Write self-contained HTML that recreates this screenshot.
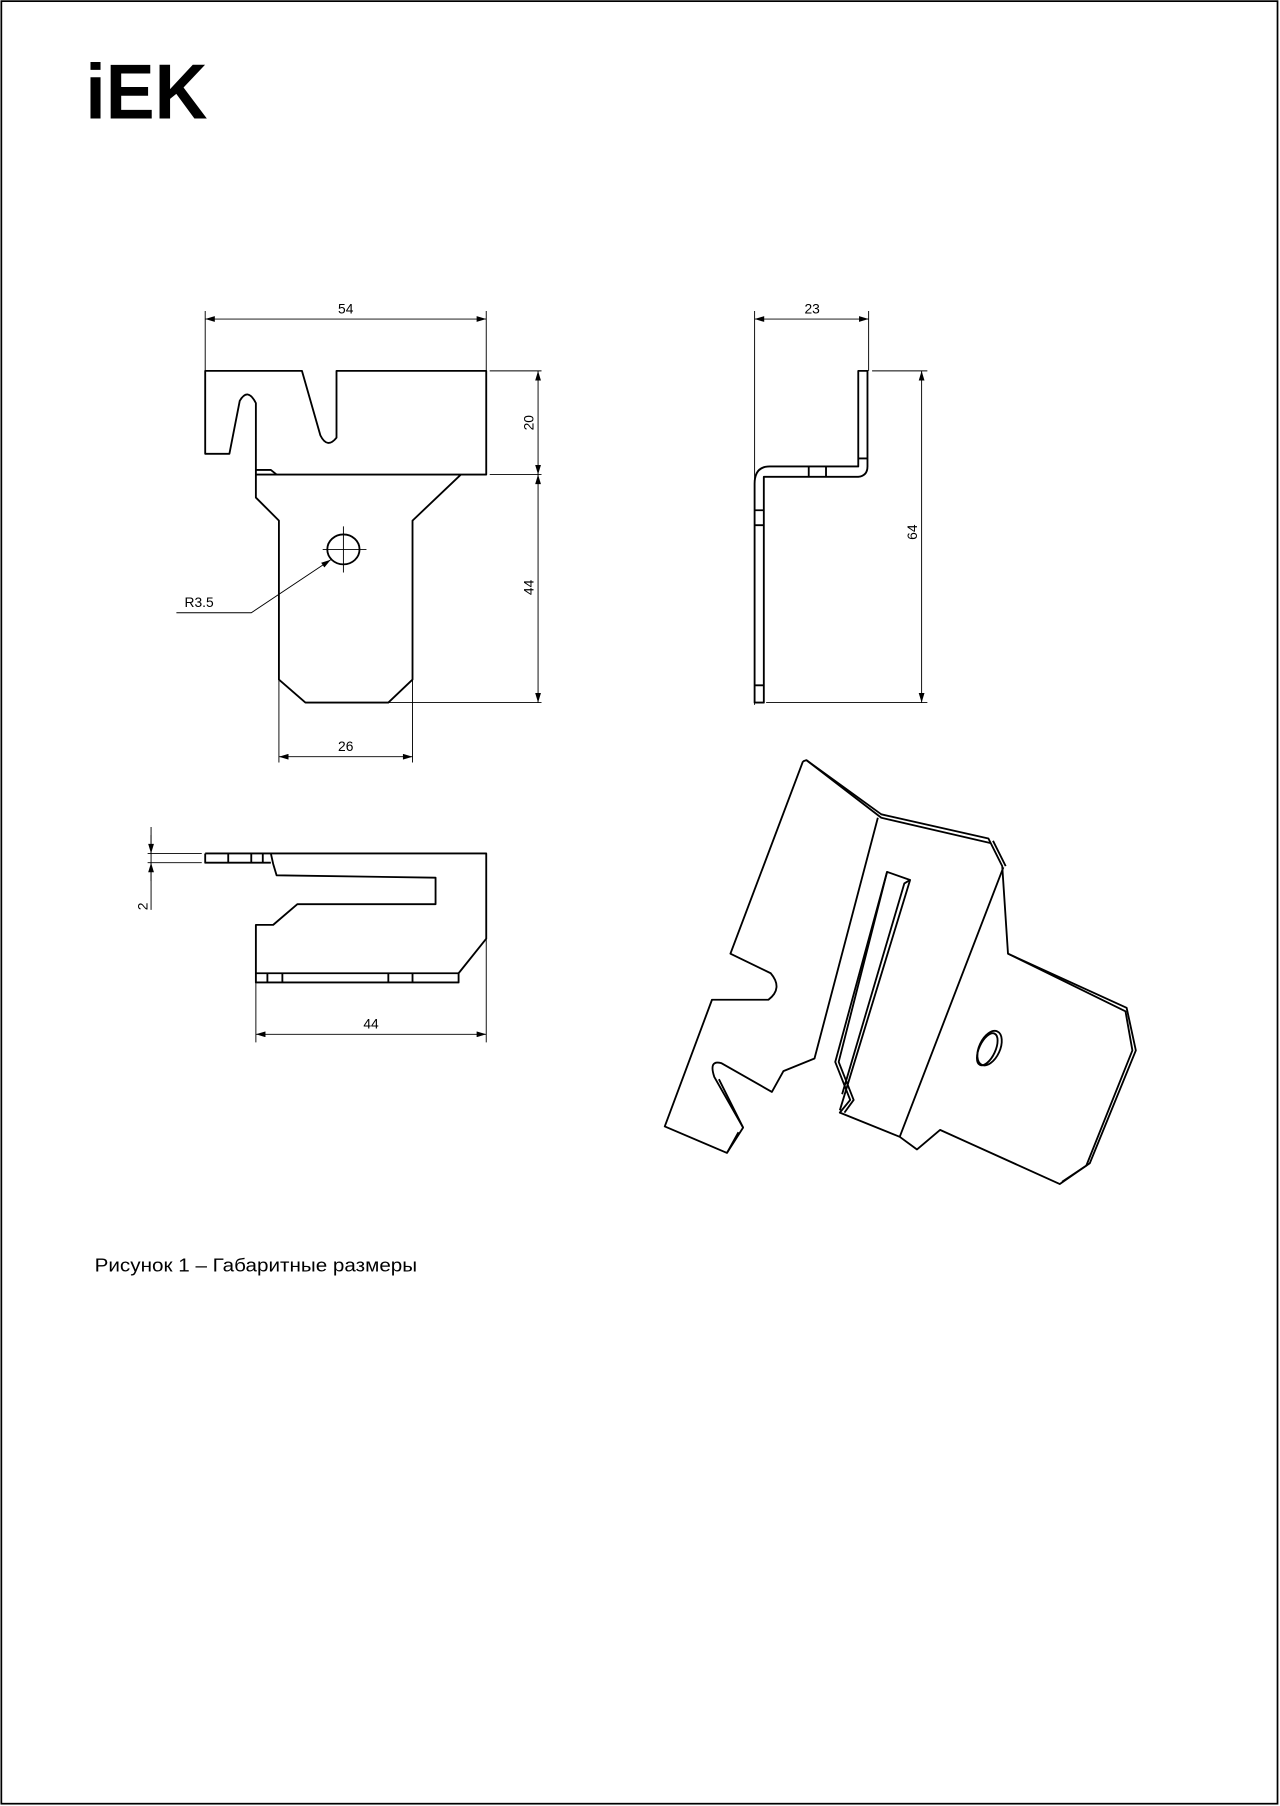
<!DOCTYPE html>
<html><head><meta charset="utf-8"><style>html,body{margin:0;padding:0;background:#fff}svg{display:block}</style></head>
<body>
<svg width="1280" height="1806" viewBox="0 0 1111 1568" xmlns="http://www.w3.org/2000/svg" font-family="Liberation Sans, sans-serif">
<defs><marker id="a" viewBox="0 0 10 6" refX="10" refY="3" markerWidth="10" markerHeight="5" orient="auto-start-reverse" markerUnits="userSpaceOnUse"><path d="M0,0L10,3L0,6z" fill="#000"/></marker></defs>
<rect x="1" y="1" width="1108" height="1565" fill="none" stroke="#000" stroke-width="1.5"/>
<text x="74" y="103" font-size="68" font-weight="bold" textLength="106" lengthAdjust="spacingAndGlyphs">iEK</text>
<g fill="none" stroke="#000" stroke-width="1.6" stroke-linejoin="round">
<path d="M178,322H262L278,378Q284,390 292,380V322H422V412H222V350Q215,336 208,348L199,394H178Z"/>
<path d="M222,412V432L242,452V590L265,610H337L358,590V452L400,412"/>
<path d="M222,408L235,408L240,412"/>
<ellipse cx="298" cy="477" rx="14" ry="13"/>
</g>
<g fill="none" stroke="#000" stroke-width="0.8">
<path d="M280,477H318M298,457V497"/>
<path d="M178,270V322M422,270V322M425,322H470M425,412H470M337,610H470M242,590V662M358,590V662"/>
<line x1="178" y1="277" x2="422" y2="277" marker-start="url(#a)" marker-end="url(#a)"/>
<line x1="467" y1="322" x2="467" y2="412" marker-start="url(#a)" marker-end="url(#a)"/>
<line x1="467" y1="412" x2="467" y2="610" marker-start="url(#a)" marker-end="url(#a)"/>
<line x1="242" y1="657" x2="358" y2="657" marker-start="url(#a)" marker-end="url(#a)"/>
<path d="M153,532H218L287,486" marker-end="url(#a)"/>
<path d="M655,270V612M754,270V322M757,322H805M665,610H805"/>
<line x1="655" y1="277" x2="754" y2="277" marker-start="url(#a)" marker-end="url(#a)"/>
<line x1="800" y1="322" x2="800" y2="610" marker-start="url(#a)" marker-end="url(#a)"/>
<path d="M128,741H175M128,749H175M131,718V790M222,853V905M422,815V905"/>
<line x1="131" y1="725" x2="131" y2="741" marker-end="url(#a)"/>
<line x1="131" y1="765" x2="131" y2="749" marker-end="url(#a)"/>
<line x1="222" y1="898" x2="422" y2="898" marker-start="url(#a)" marker-end="url(#a)"/>
</g>
<g fill="none" stroke="#000" stroke-width="1.6" stroke-linejoin="round">
<path d="M745,322H753V405Q753,413 745,414H663V610H655V420Q655,405 668,405H745Z"/>
<path d="M745,398H753M717,405V414M702,405V414M655,443H663M655,456H663M655,595H663"/>
<path d="M178,741H235H422V815L398,845V853H222V803H237L258,785H378V762L240,760L237,750L235,741"/>
<path d="M178,741V749H235M198,741V749M218,741V749M228,741V749M222,845H398M232,845V853M245,845V853M337,845V853M358,845V853"/>
<!-- isometric -->
<path d="M697,661L634,828L669,845Q680,858 667,868L618,868L577,978L631,1001L645,979L620,935Q615,920 626,923L670,948L680,930L707,919L762,710"/>
<path d="M697,661L700,660L765,707L858,728L870,752L875,828L978,875L986,912L946,1010L920,1028L816,981L796,998L781,987L729,966L738,955L725,922L770,757L790,764L729,964"/>
<path d="M700,660L765,710L860,732M862,730L873,752M871,753L781,987M875,828L977,878L983,912L943,1012L922,1026"/>
<path d="M790,764L785,767L731,950M770,757L728,922L741,955L733,966"/>
<path d="M631,1001L641,983M645,979L624,937"/>
<ellipse cx="859" cy="910" rx="9" ry="16" transform="rotate(25 859 910)"/>
<ellipse cx="857" cy="911" rx="7" ry="15" transform="rotate(25 857 911)"/>
</g>
<g font-size="12" fill="#000">
<text x="300" y="272" text-anchor="middle">54</text>
<text x="300" y="652" text-anchor="middle">26</text>
<text x="705" y="272" text-anchor="middle">23</text>
<text x="322" y="893" text-anchor="middle">44</text>
<text x="160" y="527">R3.5</text>
<text transform="translate(463,367) rotate(-90)" text-anchor="middle">20</text>
<text transform="translate(463,510) rotate(-90)" text-anchor="middle">44</text>
<text transform="translate(796,462) rotate(-90)" text-anchor="middle">64</text>
<text transform="translate(128,787) rotate(-90)" text-anchor="middle">2</text>
</g>
<text x="82" y="1104" font-size="16" textLength="280" lengthAdjust="spacingAndGlyphs">Рисунок 1 – Габаритные размеры</text>
</svg>
</body></html>
